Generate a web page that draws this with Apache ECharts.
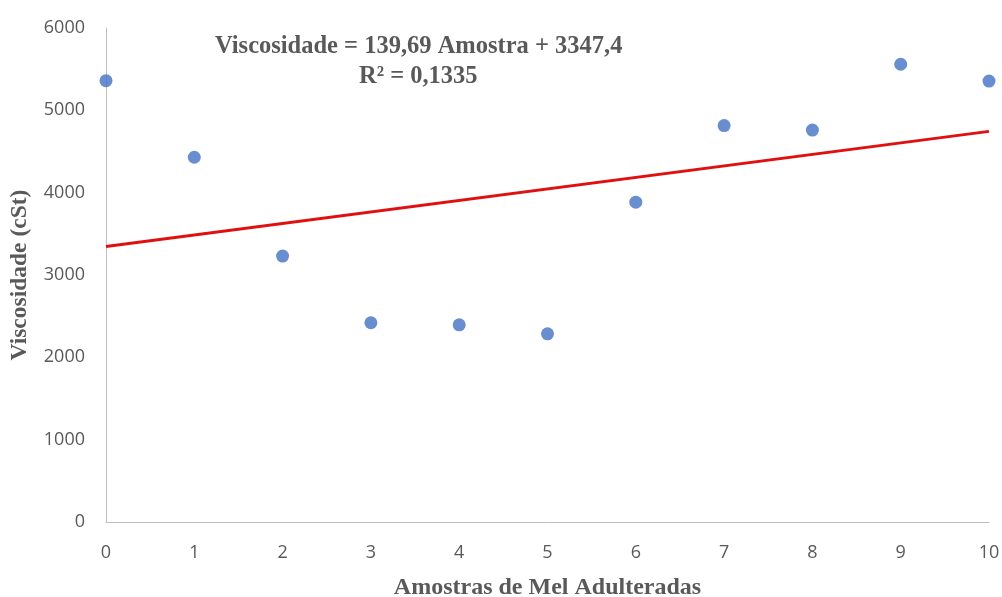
<!DOCTYPE html>
<html>
<head>
<meta charset="utf-8">
<script src="https://cdn.jsdelivr.net/npm/echarts@6/dist/echarts.min.js"></script>
<style>
  html, body { margin: 0; padding: 0; background: #ffffff; }
  #chart { width: 1002px; height: 597px; }
</style>
</head>
<body>
<div id="chart"></div>
<script>
// Amostras de mel adulteradas e viscosidade medida (cSt)
const amostras = [0, 1, 2, 3, 4, 5, 6, 7, 8, 9, 10];
const viscosidade = [5360, 4430, 3230, 2420, 2395, 2285, 3885, 4815, 4760, 5560, 5355];

// Linha de tendência linear: Viscosidade = a * Amostra + b
const inclinacao = 139.69;
const intercepto = 3347.4;
const r2 = '0,1335';
const trendX = [0, 10];

const yTicks = { min: 0, max: 6000, interval: 1000 };
const xTicks = { min: 0, max: 10, interval: 1 };

const pontos = amostras.map((x, i) => [x, viscosidade[i]]);
const tendencia = trendX.map(x => [x, inclinacao * x + intercepto]);

const cinza = '#595959';
const serif = '"Liberation Serif", "DejaVu Serif", serif';
const sans = '"Open Sans", "Liberation Sans", sans-serif';

const chart = echarts.init(document.getElementById('chart'), null, { renderer: 'canvas' });
chart.setOption({
  animation: false,
  backgroundColor: '#ffffff',
  grid: {
    left: 106, right: 13, top: 28, bottom: 75,
    containLabel: false,
    outerBoundsMode: 'none'
  },
  xAxis: {
    type: 'value',
    min: xTicks.min, max: xTicks.max, interval: xTicks.interval,
    name: 'Amostras de Mel Adulteradas',
    nameLocation: 'middle',
    nameGap: 54,
    nameTextStyle: { fontFamily: serif, fontWeight: 'bold', fontSize: 24, color: cinza },
    axisLine: { show: true, lineStyle: { color: '#bfbfbf', width: 1 } },
    axisTick: { show: false },
    splitLine: { show: false },
    axisLabel: { fontFamily: sans, fontSize: 18, color: cinza, margin: 22 }
  },
  yAxis: {
    type: 'value',
    min: yTicks.min, max: yTicks.max, interval: yTicks.interval,
    name: 'Viscosidade (cSt)',
    nameLocation: 'middle',
    nameGap: 74,
    nameRotate: 90,
    nameTextStyle: { fontFamily: serif, fontWeight: 'bold', fontSize: 23.5, color: cinza },
    axisLine: { show: true, lineStyle: { color: '#bfbfbf', width: 1 } },
    axisTick: { show: false },
    splitLine: { show: false },
    axisLabel: {
      fontFamily: sans, fontSize: 18, color: cinza, margin: 21,
      formatter: v => String(v)
    }
  },
  series: [
    {
      type: 'line',
      data: tendencia,
      showSymbol: false,
      lineStyle: { color: '#e01010', width: 3 },
      z: 2
    },
    {
      type: 'scatter',
      data: pontos,
      symbol: 'circle',
      symbolSize: 13,
      itemStyle: { color: '#4472c4' },
      z: 3
    }
  ],
  graphic: [
    {
      type: 'text',
      left: 215, top: 34,
      style: {
        text: 'Viscosidade = 139,69 Amostra + 3347,4',
        font: 'bold 24.5px ' + serif,
        fill: cinza
      }
    },
    {
      type: 'text',
      left: 359, top: 64,
      style: {
        text: 'R² = ' + r2,
        font: 'bold 24.5px ' + serif,
        fill: cinza
      }
    }
  ]
});
</script>
</body>
</html>
